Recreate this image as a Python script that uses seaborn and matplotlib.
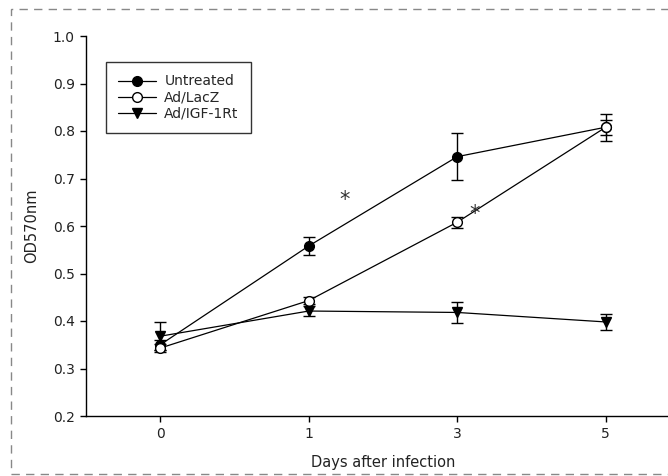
import numpy as np
import pandas as pd
import matplotlib
matplotlib.use("Agg")
import matplotlib.pyplot as plt
from matplotlib.patches import Rectangle
from matplotlib.lines import Line2D
import seaborn as sns

# Days after infection (shown as evenly spaced categories)
days = ["0", "1", "3", "5"]

untreated = [0.350, 0.558, 0.746, 0.808]
untreated_err = [0.010, 0.019, 0.050, 0.028]

lacz = [0.343, 0.443, 0.608, 0.808]
lacz_err = [0.009, 0.008, 0.012, 0.016]

igf = [0.368, 0.421, 0.418, 0.398]
igf_err = [0.029, 0.011, 0.023, 0.017]

groups = ["Untreated", "Ad/LacZ", "Ad/IGF-1Rt"]

# significance marks: (x position, y value)
star_x = [1.24, 2.12]
star_y = [0.655, 0.625]

sns.set_theme(style="ticks")
plt.rcParams["font.family"] = ["DejaVu Sans"]

rows = []
for g, vals, errs in zip(groups, [untreated, lacz, igf], [untreated_err, lacz_err, igf_err]):
    for i, (d, v, e) in enumerate(zip(days, vals, errs)):
        rows.append({"group": g, "pos": i, "day": d, "od": v, "err": e})
df = pd.DataFrame(rows)

fig = plt.figure(figsize=(6.68, 4.76), dpi=100)
W, H = 668, 476
ax_left, ax_right, ax_top, ax_bot = 86, 680, 36, 416
ax = fig.add_axes([ax_left / W, 1 - ax_bot / H, (ax_right - ax_left) / W, (ax_bot - ax_top) / H])

styles = {
    "Untreated": dict(marker="o", mfc="black"),
    "Ad/LacZ": dict(marker="o", mfc="white"),
    "Ad/IGF-1Rt": dict(marker="v", mfc="black"),
}

handles = []
for g in groups:
    sub = df[df.group == g]
    st = styles[g]
    ax.errorbar(sub["pos"], sub["od"], yerr=sub["err"], fmt="none", ecolor="black",
                elinewidth=1.0, capsize=4.3, capthick=1.0, zorder=2)
    sns.lineplot(data=sub, x="pos", y="od", ax=ax, color="black", linewidth=0.9,
                 marker=st["marker"], markersize=7, markerfacecolor=st["mfc"],
                 markeredgecolor="black", markeredgewidth=1.0, zorder=3, legend=False)
    handles.append(Line2D([], [], color="black", linewidth=0.9, marker=st["marker"],
                          markersize=7, markerfacecolor=st["mfc"],
                          markeredgecolor="black", markeredgewidth=1.0))

for sx, sy in zip(star_x, star_y):
    ax.text(sx, sy, "*", ha="center", va="center", fontsize=15, color="#333333")

ax.set_xlim(-0.5, 3.5)
ax.set_ylim(0.2, 1.0)
ax.set_xticks(range(len(days)))
ax.set_xticklabels(days)
ax.set_yticks(np.arange(0.2, 1.01, 0.1))
ax.set_yticklabels([f"{v:.1f}" for v in np.arange(0.2, 1.01, 0.1)])
ax.tick_params(axis="both", direction="out", length=4, width=1, colors="black",
               labelsize=10, pad=4, labelcolor="#222222")
for s in ["top", "right"]:
    ax.spines[s].set_visible(False)
for s in ["left", "bottom"]:
    ax.spines[s].set_color("black")
    ax.spines[s].set_linewidth(1.0)

ax.set_xlabel("Days after infection", fontsize=10.5, labelpad=10, color="#222222")
ax.set_ylabel("OD570nm", fontsize=10.5, labelpad=10, color="#222222")

leg = ax.legend(handles, groups, loc="upper left",
                bbox_to_anchor=((106 - ax_left) / (ax_right - ax_left), (ax_bot - 62) / (ax_bot - ax_top)),
                frameon=True, fancybox=False, edgecolor="black", fontsize=10,
                handlelength=2.7, handletextpad=0.6, borderpad=0.9, labelspacing=0.15,
                borderaxespad=0)
leg.get_frame().set_linewidth(1.0)

# dashed outer frame
fig.patches.append(Rectangle((11 / W, 1 - 474 / H), (700 - 11) / W, (474 - 9) / H,
                             transform=fig.transFigure, fill=False, edgecolor="#888888",
                             linewidth=1.0, linestyle=(0, (6, 4.5)), clip_on=False))

fig.savefig("out.png", dpi=100)
